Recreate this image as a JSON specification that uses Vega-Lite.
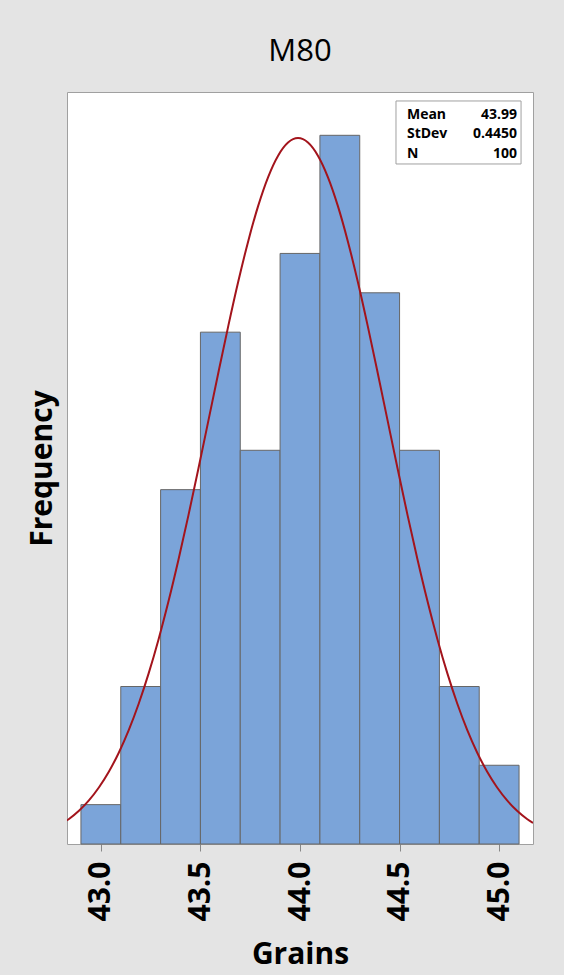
{
  "$schema": "https://vega.github.io/schema/vega-lite/v6.json",
  "width": 466,
  "height": 752,
  "autosize": {"type": "none"},
  "padding": {"left": 67, "top": 92, "right": 31, "bottom": 131},
  "background": "#e4e4e4",
  "title": {
    "text": "M80",
    "fontSize": 31,
    "fontWeight": "normal",
    "font": "Open Sans",
    "color": "#000000",
    "anchor": "middle",
    "frame": "group",
    "baseline": "alphabetic",
    "offset": 0
  },
  "config": {
    "font": "Open Sans",
    "view": {"stroke": "#a0a0a0", "strokeWidth": 1, "fill": "#ffffff"}
  },
  "datasets": {
    "bins": [
      {"bin_start": 42.9, "bin_end": 43.1, "count": 1},
      {"bin_start": 43.1, "bin_end": 43.3, "count": 4},
      {"bin_start": 43.3, "bin_end": 43.5, "count": 9},
      {"bin_start": 43.5, "bin_end": 43.7, "count": 13},
      {"bin_start": 43.7, "bin_end": 43.9, "count": 10},
      {"bin_start": 43.9, "bin_end": 44.1, "count": 15},
      {"bin_start": 44.1, "bin_end": 44.3, "count": 18},
      {"bin_start": 44.3, "bin_end": 44.5, "count": 14},
      {"bin_start": 44.5, "bin_end": 44.7, "count": 10},
      {"bin_start": 44.7, "bin_end": 44.9, "count": 4},
      {"bin_start": 44.9, "bin_end": 45.1, "count": 2}
    ],
    "fit": [
      {"grains": 42.83, "freq": 0.600},
      {"grains": 42.84, "freq": 0.636},
      {"grains": 42.89, "freq": 0.845},
      {"grains": 42.94, "freq": 1.108},
      {"grains": 42.99, "freq": 1.436},
      {"grains": 43.04, "freq": 1.836},
      {"grains": 43.09, "freq": 2.319},
      {"grains": 43.14, "freq": 2.893},
      {"grains": 43.19, "freq": 3.563},
      {"grains": 43.24, "freq": 4.333},
      {"grains": 43.29, "freq": 5.203},
      {"grains": 43.34, "freq": 6.170},
      {"grains": 43.39, "freq": 7.225},
      {"grains": 43.44, "freq": 8.353},
      {"grains": 43.49, "freq": 9.538},
      {"grains": 43.54, "freq": 10.753},
      {"grains": 43.59, "freq": 11.971},
      {"grains": 43.64, "freq": 13.160},
      {"grains": 43.69, "freq": 14.285},
      {"grains": 43.74, "freq": 15.312},
      {"grains": 43.79, "freq": 16.208},
      {"grains": 43.84, "freq": 16.940},
      {"grains": 43.89, "freq": 17.483},
      {"grains": 43.94, "freq": 17.817},
      {"grains": 43.99, "freq": 17.930},
      {"grains": 44.04, "freq": 17.817},
      {"grains": 44.09, "freq": 17.483},
      {"grains": 44.14, "freq": 16.940},
      {"grains": 44.19, "freq": 16.208},
      {"grains": 44.24, "freq": 15.312},
      {"grains": 44.29, "freq": 14.285},
      {"grains": 44.34, "freq": 13.160},
      {"grains": 44.39, "freq": 11.971},
      {"grains": 44.44, "freq": 10.753},
      {"grains": 44.49, "freq": 9.538},
      {"grains": 44.54, "freq": 8.353},
      {"grains": 44.59, "freq": 7.225},
      {"grains": 44.64, "freq": 6.170},
      {"grains": 44.69, "freq": 5.203},
      {"grains": 44.74, "freq": 4.333},
      {"grains": 44.79, "freq": 3.563},
      {"grains": 44.84, "freq": 2.893},
      {"grains": 44.89, "freq": 2.319},
      {"grains": 44.94, "freq": 1.836},
      {"grains": 44.99, "freq": 1.436},
      {"grains": 45.04, "freq": 1.108},
      {"grains": 45.09, "freq": 0.845},
      {"grains": 45.14, "freq": 0.636},
      {"grains": 45.17, "freq": 0.533}
    ],
    "stats": [
      {"labels": ["Mean", "StDev", "N"], "values": ["43.99", "0.4450", "100"]}
    ]
  },
  "layer": [
    {
      "data": {"name": "bins"},
      "mark": {"type": "bar", "fill": "#7ba4d9", "stroke": "#666666", "strokeWidth": 1},
      "encoding": {
        "x": {
          "field": "bin_start",
          "type": "quantitative",
          "scale": {"domain": [42.83, 45.17], "nice": false, "zero": false},
          "axis": {
            "title": "Grains",
            "values": [43, 43.5, 44, 44.5, 45],
            "format": ".1f",
            "labelAngle": -90,
            "labelFontSize": 30,
            "labelFontWeight": "bold",
            "labelColor": "#000000",
            "labelPadding": 10,
            "tickColor": "#888888",
            "tickSize": 7,
            "domain": false,
            "grid": false,
            "titleFontSize": 30,
            "titleFontWeight": "bold",
            "titleColor": "#000000",
            "titlePadding": 18
          }
        },
        "x2": {"field": "bin_end"},
        "y": {
          "field": "count",
          "type": "quantitative",
          "scale": {"domain": [0, 19.1], "nice": false},
          "axis": {
            "title": "Frequency",
            "labels": false,
            "ticks": false,
            "domain": false,
            "grid": false,
            "titleFontSize": 30,
            "titleFontWeight": "bold",
            "titleColor": "#000000",
            "titlePadding": 10
          }
        },
        "y2": {"datum": 0}
      }
    },
    {
      "data": {"name": "fit"},
      "mark": {"type": "line", "color": "#a3141c", "strokeWidth": 2, "interpolate": "monotone", "clip": true},
      "encoding": {
        "x": {"field": "grains", "type": "quantitative"},
        "y": {"field": "freq", "type": "quantitative"}
      }
    },
    {
      "data": {"name": "stats"},
      "mark": {"type": "rect", "fill": "#ffffff", "stroke": "#a0a0a0", "strokeWidth": 1},
      "encoding": {
        "x": {"datum": 44.482, "type": "quantitative"},
        "x2": {"datum": 45.11},
        "y": {"datum": 18.872, "type": "quantitative"},
        "y2": {"datum": 17.272}
      }
    },
    {
      "data": {"name": "stats"},
      "mark": {"type": "text", "align": "left", "baseline": "top", "fontSize": 14, "fontWeight": "bold", "lineHeight": 19.5, "color": "#000000"},
      "encoding": {
        "x": {"datum": 44.537, "type": "quantitative"},
        "y": {"datum": 18.694, "type": "quantitative"},
        "text": {"field": "labels", "type": "nominal"}
      }
    },
    {
      "data": {"name": "stats"},
      "mark": {"type": "text", "align": "right", "baseline": "top", "fontSize": 14, "fontWeight": "bold", "lineHeight": 19.5, "color": "#000000"},
      "encoding": {
        "x": {"datum": 45.09, "type": "quantitative"},
        "y": {"datum": 18.694, "type": "quantitative"},
        "text": {"field": "values", "type": "nominal"}
      }
    }
  ]
}
